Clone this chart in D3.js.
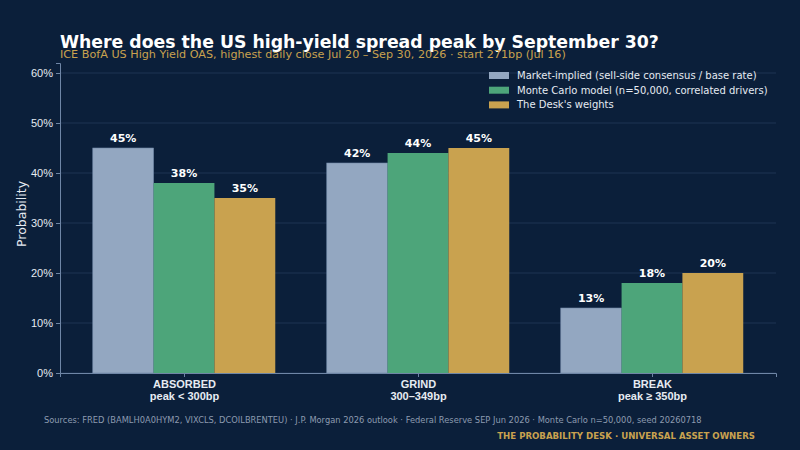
<!DOCTYPE html>
<html lang="en">
<head>
<meta charset="UTF-8">
<style>
  html, body { margin: 0; padding: 0; background: #0b1f3a; }
  svg { display: block; font-family: "DejaVu Sans", sans-serif; }
  .tick text { fill: #e6ebf2; font-size: 11px; }
  .bar-label { fill: #ffffff; font-size: 11px; font-weight: bold; text-anchor: middle; }
  .legend text { fill: #e6ebf2; font-size: 10px; }
</style>
<script src="https://d3js.org/d3.v7.min.js"></script>
</head>
<body>
<svg id="chart" width="800" height="450"></svg>
<script>
  // chart data
  const categories = ["ABSORBED", "GRIND", "BREAK"];
  const catSub = ["peak < 300bp", "300\u2013349bp", "peak \u2265 350bp"];
  const seriesNames = [
    "Market-implied (sell-side consensus / base rate)",
    "Monte Carlo model (n=50,000, correlated drivers)",
    "The Desk's weights"
  ];
  const marketVals = [45, 42, 13];
  const monteVals = [38, 44, 18];
  const deskVals = [35, 45, 20];
  const yTicks = [0, 10, 20, 30, 40, 50, 60];
  const colors = ["#93a7c1", "#4da57a", "#c9a24f"];

  const series = [marketVals, monteVals, deskVals];

  const svg = d3.select("#chart");
  svg.append("rect").attr("width", 800).attr("height", 450).attr("fill", "#0b1f3a");

  const plotL = 60, plotR = 776, plotT = 63, plotB = 373;

  // category positions, like matplotlib xlim -0.53..2.53
  const x = d3.scaleLinear().domain([-0.53, 2.53]).range([plotL, plotR]);
  const y = d3.scaleLinear().domain([0, 62]).range([plotB, plotT]);
  const barW = x(0.26) - x(0);

  // grid
  svg.append("g").selectAll("line")
    .data(yTicks)
    .enter().append("line")
    .attr("x1", plotL).attr("x2", plotR)
    .attr("y1", d => y(d)).attr("y2", d => y(d))
    .attr("stroke", "#1e3452").attr("stroke-width", 1);

  // bars
  series.forEach((vals, s) => {
    const g = svg.append("g");
    g.selectAll("rect")
      .data(vals)
      .enter().append("rect")
      .attr("x", (d, i) => x(i + (s - 1) * 0.26) - barW / 2)
      .attr("y", d => y(d))
      .attr("width", barW)
      .attr("height", d => y(0) - y(d))
      .attr("fill", colors[s])
      .attr("stroke", s === 0 ? "#6f86a6" : "none")
      .attr("stroke-width", 0.6);
    g.selectAll("text")
      .data(vals)
      .enter().append("text")
      .attr("class", "bar-label")
      .attr("x", (d, i) => x(i + (s - 1) * 0.26))
      .attr("y", d => y(d) - 6)
      .text(d => d + "%");
  });

  // y axis
  const yAxis = svg.append("g")
    .attr("transform", `translate(${plotL},0)`)
    .call(d3.axisLeft(y).tickValues(yTicks).tickFormat(d => d + "%").tickSize(4).tickPadding(3));
  yAxis.select(".domain").attr("stroke", "#6f86a6");
  yAxis.selectAll(".tick line").attr("stroke", "#6f86a6");

  // x axis
  const xAxis = svg.append("g")
    .attr("transform", `translate(0,${plotB})`)
    .call(d3.axisBottom(x).tickValues([0, 1, 2]).tickFormat("").tickSize(4));
  xAxis.select(".domain").attr("stroke", "#6f86a6");
  xAxis.selectAll(".tick line").attr("stroke", "#6f86a6");
  xAxis.selectAll(".tick").append("text")
    .attr("y", 15).attr("text-anchor", "middle")
    .style("font-weight", "bold").style("font-size", "11px").attr("fill", "#ffffff")
    .text((d, i) => categories[i]);
  xAxis.selectAll(".tick").append("text")
    .attr("y", 27).attr("text-anchor", "middle")
    .style("font-weight", "bold").style("font-size", "11px").attr("fill", "#ffffff")
    .text((d, i) => catSub[i]);

  // y label
  svg.append("text")
    .attr("transform", "translate(26,214) rotate(-90)")
    .attr("text-anchor", "middle")
    .attr("fill", "#e6ebf2").style("font-size", "12.5px")
    .text("Probability");

  // legend
  const legend = svg.append("g").attr("class", "legend").attr("transform", "translate(489,79)");
  seriesNames.forEach((n, i) => {
    legend.append("rect").attr("x", 0).attr("y", i * 14.7 - 7).attr("width", 20).attr("height", 7)
      .attr("fill", colors[i]);
    legend.append("text").attr("x", 28).attr("y", i * 14.7).text(n);
  });

  // titles
  svg.append("text").attr("x", 60).attr("y", 48)
    .attr("fill", "#ffffff").style("font-size", "17.3px").style("font-weight", "bold")
    .text("Where does the US high-yield spread peak by September 30?");
  svg.append("text").attr("x", 60).attr("y", 58)
    .attr("fill", "#c9a24f").style("font-size", "11.2px")
    .text("ICE BofA US High Yield OAS, highest daily close Jul 20 \u2013 Sep 30, 2026 \u00b7 start 271bp (Jul 16)");

  // footer
  svg.append("text").attr("x", 44).attr("y", 423)
    .attr("fill", "#8d9bb0").style("font-size", "8.3px")
    .text("Sources: FRED (BAMLH0A0HYM2, VIXCLS, DCOILBRENTEU) \u00b7 J.P. Morgan 2026 outlook \u00b7 Federal Reserve SEP Jun 2026 \u00b7 Monte Carlo n=50,000, seed 20260718");
  svg.append("text").attr("x", 755).attr("y", 439).attr("text-anchor", "end")
    .attr("fill", "#c9a24f").style("font-size", "8.6px").style("font-weight", "bold")
    .text("THE PROBABILITY DESK \u00b7 UNIVERSAL ASSET OWNERS");
</script>
</body>
</html>
